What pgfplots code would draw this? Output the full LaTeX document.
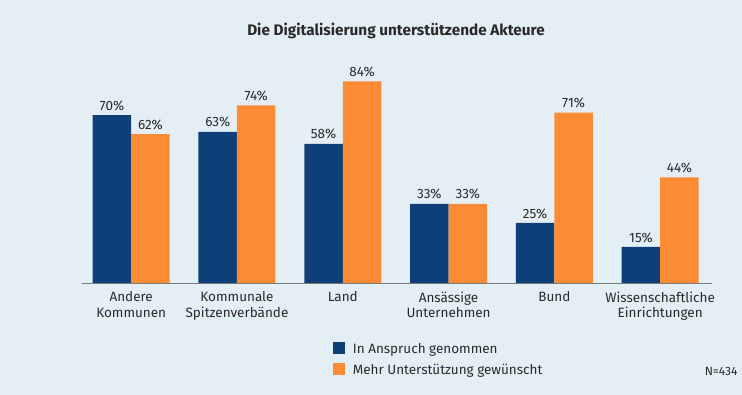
\documentclass[border=0pt]{standalone}
\usepackage{pgfplots}
\pgfplotsset{compat=1.18}
\usepackage{fontspec}
\setmainfont{Fira Sans}
\definecolor{bg}{HTML}{E3EFF5}
\definecolor{cblue}{HTML}{0E3F78}
\definecolor{corange}{HTML}{FB8C35}
\definecolor{txt}{HTML}{2A2A2A}
\begin{document}
\begin{tikzpicture}
\fill[bg] (0pt,0pt) rectangle (742pt,395pt);
\useasboundingbox (0pt,0pt) rectangle (742pt,395pt);
\node[font=\fontsize{15.3}{17}\selectfont\bfseries, text=txt] at (396pt,364pt) {Die Digitalisierung unterstützende Akteure};
\node[anchor=east, font=\fontsize{12}{14}\selectfont, text=txt] at (741pt,24pt) {N=434};
\begin{axis}[
  at={(82pt,112pt)}, anchor=south west,
  scale only axis, width=630pt, height=216pt,
  ymin=0, ymax=90, xmin=-0.465, xmax=5.49,
  ybar=0pt, bar width=38.5pt,
  axis x line=bottom, axis y line=none,
  axis line style={draw=gray!70!black!80, line width=0.8pt, -},
  xtick=data, major tick length=0pt,
  xticklabels={{Andere\\Kommunen},{Kommunale\\Spitzenverbände},{Land},{Ansässige\\Unternehmen},{Bund},{Wissenschaftliche\\Einrichtungen}},
  xticklabel style={align=center, font=\fontsize{13.5}{15.5}\selectfont, text=txt, yshift=-5pt},
  nodes near coords={\pgfmathprintnumber{\pgfplotspointmeta}\%},
  nodes near coords style={font=\fontsize{13.5}{15}\selectfont, text=txt, yshift=1pt},
  /pgf/number format/assume math mode=true,
  legend style={at={(0.393,-0.26)}, anchor=north west, draw=none, fill=none, font=\fontsize{13.5}{15}\selectfont, text=txt, row sep=5pt, legend cell align=left},
  legend image code/.code={\fill[#1] (0pt,-5pt) rectangle (12pt,7pt); \path (18pt,0pt);},
  clip=false,
]
\addplot[fill=cblue, draw=none] coordinates {(0,70) (1,63) (2,58) (3,33) (4,25) (5,15)};
\addplot[fill=corange, draw=none] coordinates {(0,62) (1,74) (2,84) (3,33) (4,71) (5,44)};
\legend{In Anspruch genommen, Mehr Unterstützung gewünscht}
\end{axis}
\end{tikzpicture}
\end{document}
